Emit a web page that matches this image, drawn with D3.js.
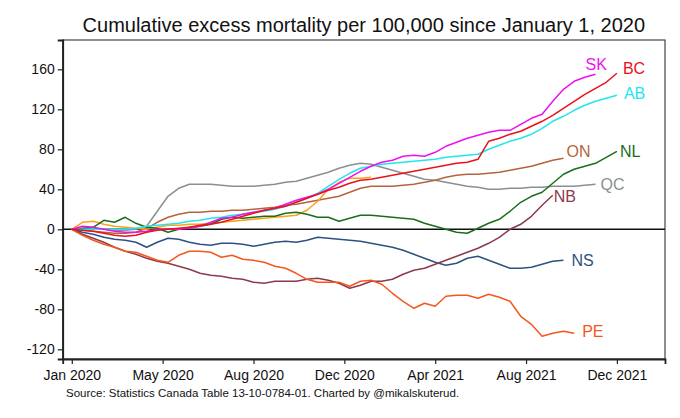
<!DOCTYPE html>
<html>
<head>
<meta charset="utf-8">
<script src="https://cdn.jsdelivr.net/npm/d3@7"></script>
<style>
  html, body { margin: 0; padding: 0; background: #fff; }
  svg { display: block; font-family: "Liberation Sans", Arial, sans-serif; }
</style>
</head>
<body>
<svg id="chart" width="680" height="418"></svg>
<script>
// ---- data (weeks since Jan 1, 2020; cumulative excess deaths per 100,000) ----
const weeks = [0,2,4,6,8,10,12,14,16,18,20,22,24,26,28,30,32,34,36,38,40,42,44,46,48,50,
               52,54,56,58,60,62,64,66,68,70,72,74,76,78,80,82,84,86,88,90,92,94,96,98,100,102];

const tickWeeks  = [0, 17, 34, 51, 68, 85, 102];
const tickLabels = ["Jan 2020","May 2020","Aug 2020","Dec 2020","Apr 2021","Aug 2021","Dec 2021"];
const yTicks = [-120, -80, -40, 0, 40, 80, 120, 160];

const provinces = ["QC","ON","MB","NL","NS","NB","PE","AB","SK","BC"];

const QC = [0,0.5,1,0,-1,-1,0,3,18,33,41,45,45,45,44,43,43,43,44,45,47,48,51,54,57,61,
            64,66,65,62,59,56,53,50,49,47,45,43,42,40,40,41,41,42,42,43,43,43,44,45];
const ON = [0,-1,-2,-3,-4,-4,-3,1,7,12,15,17,17,18,18,19,19,20,21,22,24,25,27,29,31,33,
            37,41,43,43,43,44,45,47,49,52,54,55,55,56,57,59,61,63,66,69,71];
const MB = [0,7,8,5,3,2,1,0,2,4,4,5,5,6,7,8,9,10,11,12,13,14,19,28,40,47,51,51,52];
const NL = [0,1,2,9,7,12,6,2,1,-3,0,2,3,5,10,12,11,12,13,13,16,17,15,12,12,8,
            11,14,14,13,12,11,10,6,3,0,-3,-4,1,6,10,18,27,33,37,46,55,60,63,66,72,78];
const NS = [0,-3,-5,-8,-10,-11,-13,-18,-13,-9,-10,-13,-15,-16,-14,-14,-15,-17,-15,-13,-12,-13,-11,-8,-9,-10,
            -11,-12,-14,-16,-18,-21,-25,-29,-33,-36,-34,-29,-27,-31,-35,-39,-39,-38,-35,-32,-31];
const NB = [0,-5,-9,-13,-18,-22,-25,-29,-32,-34,-37,-40,-44,-46,-47,-49,-50,-53,-54,-52,-52,-52,-50,-49,-51,-54,
            -59,-56,-52,-52,-50,-45,-41,-39,-35,-31,-27,-23,-19,-14,-8,0,5,13,24,34];
const PE = [0,-6,-11,-15,-18,-22,-23,-27,-31,-33,-26,-22,-22,-23,-28,-26,-30,-31,-33,-37,-39,-44,-50,-53,-53,-53,
            -57,-52,-51,-55,-64,-72,-79,-74,-77,-67,-66,-66,-69,-65,-68,-72,-87,-95,-107,-104,-102,-104];
const AB = [0,0,0,0,0,0,1,3,4,5,6,8,9,11,12,14,15,17,18,20,23,27,31,36,43,50,
            56,61,63,65,66,67,68,69,70,72,73,74,75,80,84,88,91,95,101,108,113,119,124,128,131,134];
const SK = [0,3,2,0,-2,-3,-3,-2,0,0,0,1,3,7,11,12,15,17,19,21,25,29,32,35,40,46,
            52,58,63,67,69,73,74,73,77,83,87,91,94,97,99,99,105,111,115,128,140,148,152,155];
const BC = [0,-1,-2,-4,-6,-7,-6,-3,-1,0,1,2,4,5,7,10,13,16,19,21,23,27,31,35,39,42,
            46,49,50,52,54,56,58,60,62,64,66,67,70,88,91,95,98,103,108,114,121,128,135,141,147,156];

const seriesValues = {QC, ON, MB, NL, NS, NB, PE, AB, SK, BC};

// ---- styling ----
const colors = {
  QC: "#8a9090", ON: "#b4643c", MB: "#ff9f1a", NL: "#1a6e1a", NS: "#2c5282",
  NB: "#8c3a4c", PE: "#f4581e", AB: "#22e6ee", SK: "#ee11ee", BC: "#e8121a"
};
const labelOffsets = {
  SK: [-10, -10], BC: [6, -5], AB: [7, -2], ON: [3, -7], NL: [3, 0],
  QC: [5, 0], NB: [1, 1], NS: [8, 0], PE: [8, -2]
};

// ---- chart ----
const svg = d3.select("#chart");
const plot = {left: 62.7, right: 665, top: 40, bottom: 359};

const x = d3.scaleLinear().domain([-1.7, 111]).range([plot.left, plot.right]);
const y = d3.scaleLinear().domain([-129.7, 189.3]).range([plot.bottom, plot.top]);

// title
svg.append("text")
  .attr("x", (plot.left + plot.right) / 2)
  .attr("y", 32)
  .attr("text-anchor", "middle")
  .attr("font-size", 20)
  .attr("fill", "#111")
  .text("Cumulative excess mortality per 100,000 since January 1, 2020");

// frame
svg.append("rect")
  .attr("x", plot.left).attr("y", plot.top)
  .attr("width", plot.right - plot.left).attr("height", plot.bottom - plot.top)
  .attr("fill", "none").attr("stroke", "#444").attr("stroke-width", 1.2);

// axes
const yAxis = d3.axisLeft(y).tickValues(yTicks).tickSize(5).tickPadding(3)
  .tickFormat(d => d < 0 ? "-" + Math.abs(d) : d);
const gy = svg.append("g").attr("transform", `translate(${plot.left},0)`).call(yAxis);
gy.select(".domain").attr("stroke", "#222").attr("stroke-width", 1.8);
gy.selectAll(".tick line").attr("stroke", "#222").attr("stroke-width", 1.2);
gy.selectAll(".tick text").attr("font-size", 14).attr("fill", "#111")
  .attr("font-family", "Liberation Sans, Arial, sans-serif");

const xAxis = d3.axisBottom(x).tickValues(tickWeeks).tickSize(5).tickPadding(6)
  .tickFormat((d, i) => tickLabels[i]);
const gx = svg.append("g").attr("transform", `translate(0,${plot.bottom})`).call(xAxis);
gx.select(".domain").attr("stroke", "#222").attr("stroke-width", 1.8);
gx.selectAll(".tick line").attr("stroke", "#222").attr("stroke-width", 1.2);
gx.selectAll(".tick text").attr("font-size", 14).attr("fill", "#111")
  .attr("font-family", "Liberation Sans, Arial, sans-serif");

// zero line
svg.append("line")
  .attr("x1", plot.left).attr("x2", plot.right)
  .attr("y1", y(0)).attr("y2", y(0))
  .attr("stroke", "#111").attr("stroke-width", 1.5);

// series lines
const line = d3.line()
  .x((d, i) => x(weeks[i]))
  .y(d => y(d));

const gLines = svg.append("g");
provinces.forEach(p => {
  gLines.append("path")
    .datum(seriesValues[p])
    .attr("d", line)
    .attr("fill", "none")
    .attr("stroke", colors[p])
    .attr("stroke-width", 1.5)
    .attr("stroke-linejoin", "round");
});

// end labels
const gLabels = svg.append("g");
provinces.filter(p => labelOffsets[p]).forEach(p => {
  const vals = seriesValues[p];
  const i = vals.length - 1;
  const [dx, dy] = labelOffsets[p];
  gLabels.append("text")
    .attr("x", x(weeks[i]) + dx)
    .attr("y", y(vals[i]) + dy)
    .attr("dy", "0.35em")
    .attr("font-size", 16)
    .attr("fill", colors[p])
    .text(p);
});

// source note
svg.append("text")
  .attr("x", 66)
  .attr("y", 397)
  .attr("font-size", 11.5)
  .attr("fill", "#111")
  .text("Source: Statistics Canada Table 13-10-0784-01. Charted by @mikalskuterud.");
</script>
</body>
</html>
